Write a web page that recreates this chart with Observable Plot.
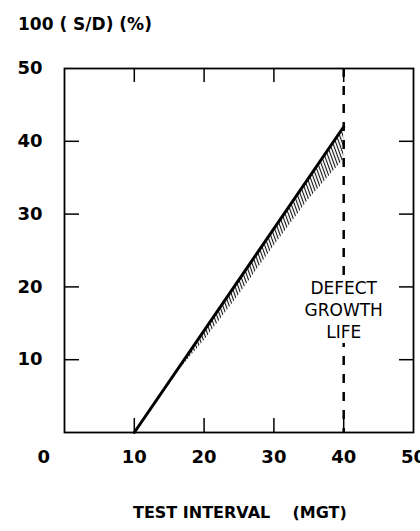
<!DOCTYPE html>
<html><head><meta charset="utf-8">
<script src="https://cdn.jsdelivr.net/npm/d3@7"></script>
<script src="https://cdn.jsdelivr.net/npm/@observablehq/plot@0.6"></script>
<style>
body{margin:0;background:#fff;width:420px;height:531px;overflow:hidden;font-family:"DejaVu Sans",sans-serif;color:#000;}
#yt{height:40px;position:relative;}
#yt span{position:absolute;left:18px;top:14px;font-weight:bold;font-size:17px;line-height:20px;white-space:pre;}
#chart{height:440px;}
#xt{height:51px;position:relative;}
#xt span{position:absolute;left:133px;top:24px;font-weight:bold;font-size:16px;line-height:18px;white-space:pre;}
g[aria-label="annot"] text{letter-spacing:2.5px;}
</style></head>
<body>
<div id="yt"><span></span></div>
<div id="chart"></div>
<div id="xt"><span></span></div>
<script>
// ---- data ----
const yTitle = "100 ( S/D) (%)";
const xTitle = "TEST INTERVAL    (MGT)";
const xTickValues = [10, 20, 30, 40, 50];
const yTickValues = [10, 20, 30, 40, 50];
const innerTickX = [10, 20, 30, 40];
const innerTickY = [10, 20, 30, 40];
const originLabel = ["0"];
const lineX = [10, 40];
const lineY = [0, 42];
const hatchX = [15, 20, 25, 30, 35, 40];
const hatchLow = [7, 12.6, 18.9, 25.6, 32, 37.5];
const hatchHigh = [7, 14, 21, 28, 35, 42];
const limitX = [40];
const annotation = ["DEFECT\nGROWTH\nLIFE"];
const annotationX = [40];
const annotationY = [17];

document.querySelector("#yt span").textContent = yTitle;
document.querySelector("#xt span").textContent = xTitle;

const lineData = lineX.map((x, i) => ({x, y: lineY[i]}));
const hatchData = hatchX.map((x, i) => ({x, lo: hatchLow[i], hi: hatchHigh[i]}));
const annData = annotation.map((t, i) => ({t, x: annotationX[i], y: annotationY[i]}));

const tickStyle = {tickFormat: () => "", label: null, strokeWidth: 1.5};

const svg = Plot.plot({
  width: 420,
  height: 440,
  marginTop: 28,
  marginBottom: 48,
  marginLeft: 64,
  marginRight: 7,
  x: {domain: [0, 50]},
  y: {domain: [0, 50]},
  style: {fontFamily: "DejaVu Sans", color: "black", background: "white"},
  marks: [
    Plot.areaY(hatchData, {x: "x", y1: "lo", y2: "hi", fill: "url(#hatch)"}),
    Plot.line(lineData, {x: "x", y: "y", stroke: "black", strokeWidth: 3}),
    Plot.ruleX(limitX, {x: d => d, stroke: "black", strokeWidth: 2.5, strokeDasharray: "9,9"}),
    Plot.text(annData, {x: "x", y: "y", text: "t", fontSize: 17, lineHeight: 1.3, fill: "black",
      stroke: "white", strokeWidth: 10, paintOrder: "stroke", ariaLabel: "annot"}),
    Plot.frame({stroke: "black", strokeWidth: 1.8}),
    Plot.axisX(innerTickX, {anchor: "bottom", tickSize: -14, ...tickStyle}),
    Plot.axisX(innerTickX, {anchor: "top", tickSize: -13, ...tickStyle}),
    Plot.axisY(innerTickY, {anchor: "left", tickSize: -15, ...tickStyle}),
    Plot.axisY(innerTickY, {anchor: "right", tickSize: -15, ...tickStyle}),
    Plot.text(xTickValues, {x: d => d, text: d => String(d), frameAnchor: "bottom", dy: 30,
      fontSize: 18, fontWeight: "bold", fill: "black"}),
    Plot.text(yTickValues, {y: d => d, text: d => String(d), frameAnchor: "left", dx: -22,
      textAnchor: "end", fontSize: 18, fontWeight: "bold", fill: "black"}),
    Plot.text(originLabel, {text: d => d, frameAnchor: "bottom-left", dx: -27, dy: 30,
      fontSize: 18, fontWeight: "bold", fill: "black"})
  ]
});

const ns = "http://www.w3.org/2000/svg";
const defs = document.createElementNS(ns, "defs");
defs.innerHTML = '<pattern id="hatch" patternUnits="userSpaceOnUse" width="3" height="12" patternTransform="rotate(-20)"><line x1="1.5" y1="0" x2="1.5" y2="12" stroke="#111" stroke-width="1.1"/></pattern>';
svg.insertBefore(defs, svg.firstChild);
document.getElementById("chart").appendChild(svg);
</script>
</body></html>
